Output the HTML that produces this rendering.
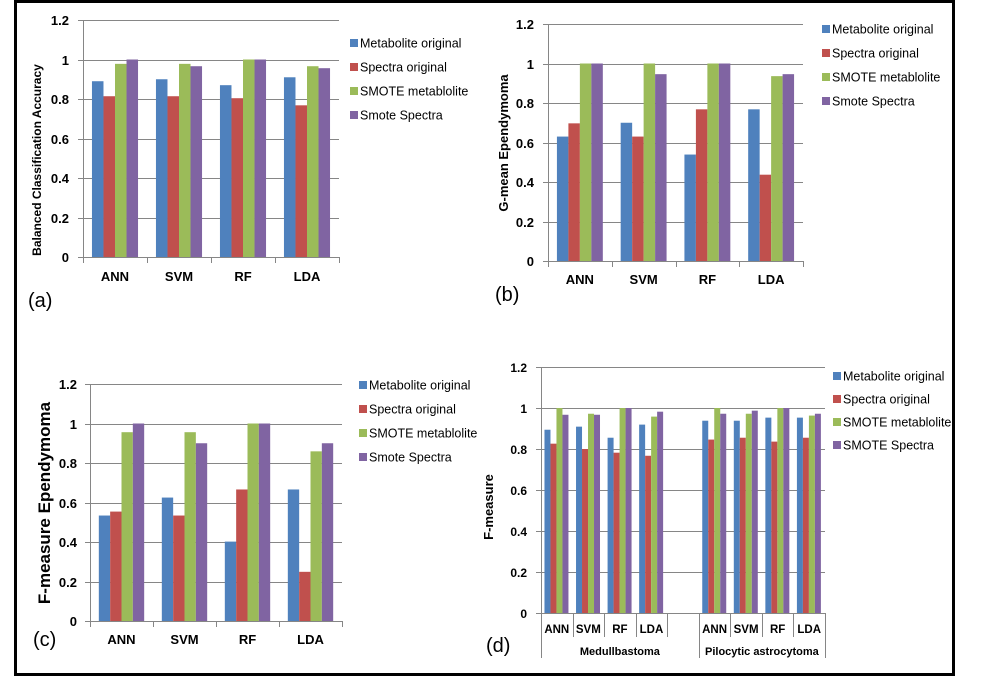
<!DOCTYPE html>
<html><head><meta charset="utf-8"><style>
html,body{margin:0;padding:0;background:#fff;}
svg{display:block;font-family:"Liberation Sans",sans-serif;}
</style></head><body>
<svg id="fig" width="991" height="695" viewBox="0 0 991 695">
<rect x="15.5" y="1.5" width="938" height="673" fill="none" stroke="#000" stroke-width="3"/>
</svg>
<script>
const categories = ["ANN","SVM","RF","LDA"];
const seriesNames = ["Metabolite original","Spectra original","SMOTE metablolite","Smote Spectra"];
const seriesNamesD = ["Metabolite original","Spectra original","SMOTE metablolite","SMOTE Spectra"];
const yTicks = [0,0.2,0.4,0.6,0.8,1,1.2];
const yTickLabels = ["0","0.2","0.4","0.6","0.8","1","1.2"];
// Panel (a) Balanced classification accuracy
const aMetab = [0.89,0.90,0.87,0.91];
const aSpectra = [0.814,0.814,0.804,0.768];
const aSmoteMet = [0.978,0.978,1.0,0.966];
const aSmoteSpec = [1.0,0.966,1.0,0.956];
// Panel (b) G-mean
const bMetab = [0.63,0.70,0.539,0.768];
const bSpectra = [0.697,0.63,0.768,0.437];
const bSmoteMet = [1.0,1.0,1.0,0.936];
const bSmoteSpec = [1.0,0.946,1.0,0.946];
// Panel (c) F-measure ependymoma
const cMetab = [0.534,0.625,0.402,0.666];
const cSpectra = [0.554,0.534,0.666,0.249];
const cSmoteMet = [0.956,0.956,1.0,0.859];
const cSmoteSpec = [1.0,0.9,1.0,0.9];
// Panel (d) F-measure, two tumour groups
const dCategories = ["ANN","SVM","RF","LDA","","ANN","SVM","RF","LDA"];
const dGroups = ["Medullbastoma","Pilocytic astrocytoma"];
const dGroupSizes = [5,4];
const dMetab = [0.894,0.909,0.855,0.919,null,0.938,0.938,0.953,0.953];
const dSpectra = [0.826,0.80,0.782,0.767,null,0.846,0.855,0.836,0.855];
const dSmoteMet = [1.0,0.972,1.0,0.958,null,1.0,0.972,1.0,0.963];
const dSmoteSpec = [0.967,0.967,1.0,0.982,null,0.972,0.987,1.0,0.972];

const colors = ["#4F81BD","#C0504D","#9BBB59","#8064A2"];
const NS = "http://www.w3.org/2000/svg";
const svg = document.getElementById("fig");
function mk(tag, attrs, parent, text){
  const e = document.createElementNS(NS, tag);
  for (const k in attrs) e.setAttribute(k, attrs[k]);
  if (text !== undefined) e.textContent = text;
  (parent||svg).appendChild(e);
  return e;
}
function drawPanel(p){
  const g = mk("g", {});
  
  
  const ymax = 1.2;
  const yS = v => p.y0 - (v/ymax)*(p.y0 - p.yTop);
  const n = p.cats.length;
  const cw = (p.x1 - p.x0)/n;
  const xS = i => p.x0 + i*cw;
  yTicks.forEach((t,i)=>{
    const y = Math.round(yS(t))+0.5;
    const l = mk("line",{x1:p.x0-5,x2:p.x1,y1:y,y2:y,stroke:"#868686","stroke-width":1},g);
    
    
    const tx = mk("text",{x:p.tickX,y:y+4.5,"text-anchor":"end","font-size":p.tickFs,"font-weight":"bold"},g,yTickLabels[i]);
    
    
  });
  mk("line",{x1:p.x0+0.5,x2:p.x0+0.5,y1:yS(1.2),y2:p.y0+(p.grouped?0:5),stroke:"#868686"},g);
  p.series.forEach((s,si)=>{
    s.forEach((v,ci)=>{
      if (v===null) return;
      const bx = xS(ci) + p.off*cw + si*p.bw*cw;
      const r = mk("rect",{x:bx,y:yS(v),width:p.bw*cw,height:p.y0-yS(v),fill:colors[si]},g);
      
      
    });
  });
  mk("line",{x1:p.x0,x2:p.x1,y1:p.y0+0.5,y2:p.y0+0.5,stroke:"#868686"},g);
  if (!p.grouped){
    for(let i=0;i<=n;i++){ const x=Math.round(xS(i))+0.5; mk("line",{x1:x,x2:x,y1:p.y0,y2:p.y0+6,stroke:"#868686"},g); }
  } else {
    const b = [];
    let acc=0; b.push(0); dGroupSizes.forEach(s=>{acc+=s;b.push(acc);});
    for(let i=0;i<=n;i++){ const x=Math.round(xS(i))+0.5; const long=b.includes(i);
      mk("line",{x1:x,x2:x,y1:p.y0,y2:long?p.y0+45:p.y0+24,stroke:"#868686"},g); }
    let start=0;
    dGroups.forEach((gn,gi)=>{
      const cx=(xS(start)+xS(start+dGroupSizes[gi]))/2;
      const t=mk("text",{x:cx,y:p.y0+42,"text-anchor":"middle","font-size":11,"font-weight":"bold"},g,gn);
      
      
      start+=dGroupSizes[gi];
    });
  }
  p.cats.forEach((c,ci)=>{
    if(!c) return;
    const t=mk("text",{x:xS(ci)+cw/2,y:p.catY,"text-anchor":"middle","font-size":p.catFs,"font-weight":"bold"},g,c);
    
    
  });
  const yt=mk("text",{x:0,y:0,transform:`translate(${p.titleX},${p.titleY}) rotate(-90)`,"text-anchor":"middle","font-size":p.titleFs,"font-weight":"bold"},g,p.title);
  
  
  const pl=mk("text",{x:p.labX,y:p.labY,"font-size":20},g,p.lab);
  
  
  p.names.forEach((nm,i)=>{
    const yy=p.legY+i*p.legDy;
    const sw=mk("rect",{x:p.legX,y:yy-4,width:8,height:8,fill:colors[i]},g);
    
    
    const t=mk("text",{x:p.legX+10,y:yy+4.5,"font-size":12.5},g,nm);
    
    
  });
}
const common={bw:0.18,off:0.14,tickFs:13,catFs:13};
drawPanel(Object.assign({},common,{id:"a",cats:categories,x0:83,x1:339,y0:257,yTop:20,tickX:69,catY:281,
  series:[aMetab,aSpectra,aSmoteMet,aSmoteSpec],title:"Balanced Classification Accuracy",titleX:41,titleY:160,titleFs:12,
  lab:"(a)",labX:28,labY:307,names:seriesNames,legX:350,legY:43,legDy:24}));
drawPanel(Object.assign({},common,{id:"b",cats:categories,x0:548,x1:803,y0:261,yTop:24,tickX:534,catY:284,
  series:[bMetab,bSpectra,bSmoteMet,bSmoteSpec],title:"G-mean Ependymoma",titleX:508,titleY:143,titleFs:13,
  lab:"(b)",labX:495,labY:301,names:seriesNames,legX:822,legY:29,legDy:24}));
drawPanel(Object.assign({},common,{id:"c",cats:categories,x0:90,x1:342,y0:621,yTop:384,tickX:77,catY:644,
  series:[cMetab,cSpectra,cSmoteMet,cSmoteSpec],title:"F-measure Ependymoma",titleX:50,titleY:503,titleFs:17,
  lab:"(c)",labX:33,labY:646,names:seriesNames,legX:359,legY:385,legDy:24}));
drawPanel(Object.assign({},common,{id:"d",cats:dCategories,x0:541,x1:825,y0:613,yTop:367,tickX:527,catY:633,catFs:11.5,grouped:true,bw:0.19,off:0.11,tickFs:12,
  series:[dMetab,dSpectra,dSmoteMet,dSmoteSpec],title:"F-measure",titleX:493,titleY:507,titleFs:13,
  lab:"(d)",labX:486,labY:652,names:seriesNamesD,legX:833,legY:376,legDy:23}));
</script>
</body></html>
